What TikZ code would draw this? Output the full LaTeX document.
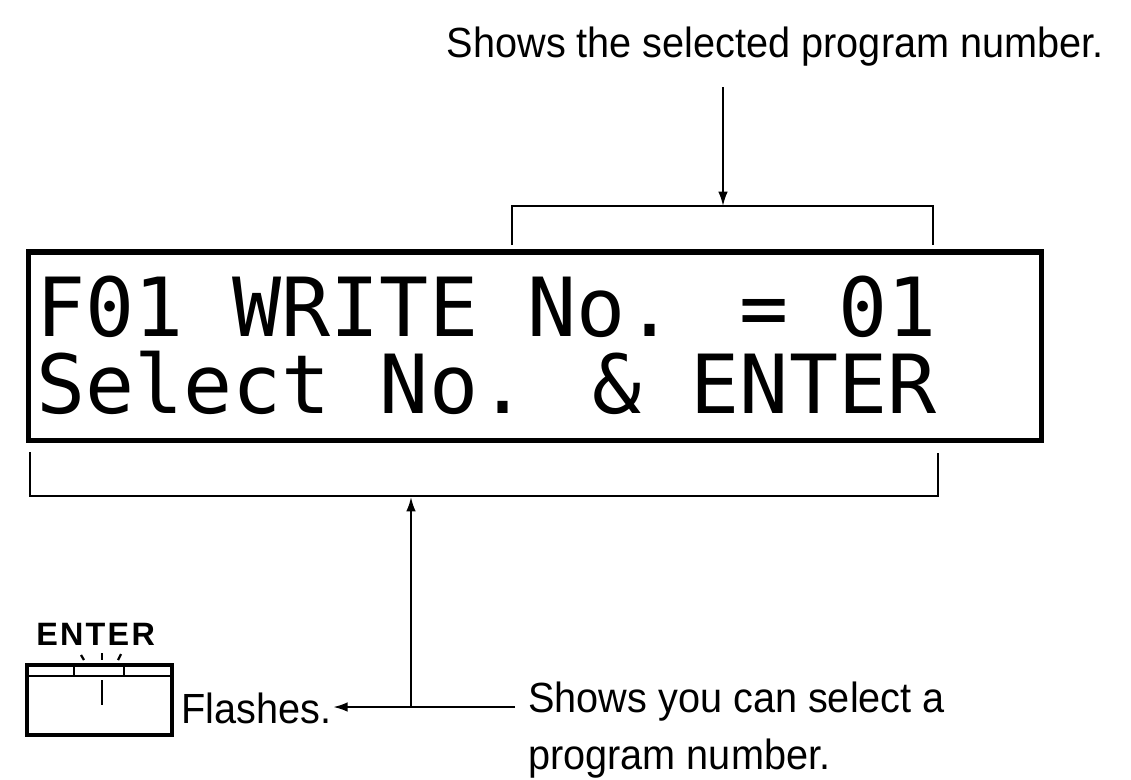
\documentclass[tikz,border=0pt]{standalone}
\usepackage{fontspec}
\setmainfont{Liberation Sans}
\newfontfamily\lcdfont{DejaVu Sans Mono}
\newfontfamily\notefont{Liberation Sans}[FakeStretch=0.94]
\usetikzlibrary{arrows.meta}
\tikzset{
  ptr/.style={-{Latex[length=3.6mm,width=2.4mm]}, line width=1.4pt},
  bracket/.style={line width=1.8pt},
  lcdframe/.style={draw, line width=3.6pt, minimum width=25.3cm, minimum height=4.7cm},
  lcdline/.style={font=\lcdfont\fontsize{58}{70}\selectfont, inner sep=0pt, anchor=base west},
  remark/.style={font=\notefont\fontsize{30}{40.5}\selectfont, inner sep=0pt, align=left},
  keyframe/.style={draw, line width=2.8pt, minimum width=3.625cm, minimum height=1.75cm},
  keyline/.style={line width=1.6pt},
  keyname/.style={font=\bfseries\fontsize{23}{26}\selectfont\addfontfeature{LetterSpace=7}, inner sep=0pt, anchor=base west}
}

\begin{document}
\begin{tikzpicture}[x=0.025cm, y=-0.025cm]
  \useasboundingbox (0,0) rectangle (1131,779);

  % display
  \node[lcdframe] (lcd) at (535,346) {};
  \node[lcdline] (rowA) at (36,336) {F01 WRITE No. = 01};
  \node[lcdline] (rowB) at (36,413) {Select No. \& ENTER};

  % top callout
  \node[remark, anchor=base east] (topnote) at (1104,57) {Shows the selected program number.};
  \coordinate (toptail) at (723,87);
  \coordinate (topbrk) at (723,206);
  \draw[bracket] (512,245) -- (512,206) -- (933,206) -- (933,245);
  \draw[ptr] (toptail) -- (topbrk);

  % bottom callout
  \coordinate (botbrk) at (411,497);
  \coordinate (junction) at (411,707);
  \coordinate (noteend) at (515,707);
  \draw[bracket] (30,452) -- (30,496) -- (938,496) -- (938,453);
  \draw[ptr] (junction) -- (botbrk);
  \node[remark, anchor=north west] (selnote) at (528,682) {Shows you can select a\\program number.};

  % ENTER key
  \node[keyname] (keylabel) at (36,645) {ENTER};
  \node[keyframe] (keycap) at (99.5,700) {};
  \draw[keyline] (27,676) -- (172,676);
  \draw[keyline] (74,665) -- (74,676);
  \draw[keyline] (124,665) -- (124,676);
  \draw[keyline] (102,680) -- (102,705);
  \draw[keyline] (81,655) -- (84,660);
  \draw[keyline] (102,653) -- (102,660);
  \draw[keyline] (121,654) -- (118,660);
  \node[remark, anchor=base west, inner sep=1pt] (flashes) at (180,723) {Flashes.};
  \draw[ptr] (noteend) -- (noteend -| flashes.east);
\end{tikzpicture}
\end{document}
